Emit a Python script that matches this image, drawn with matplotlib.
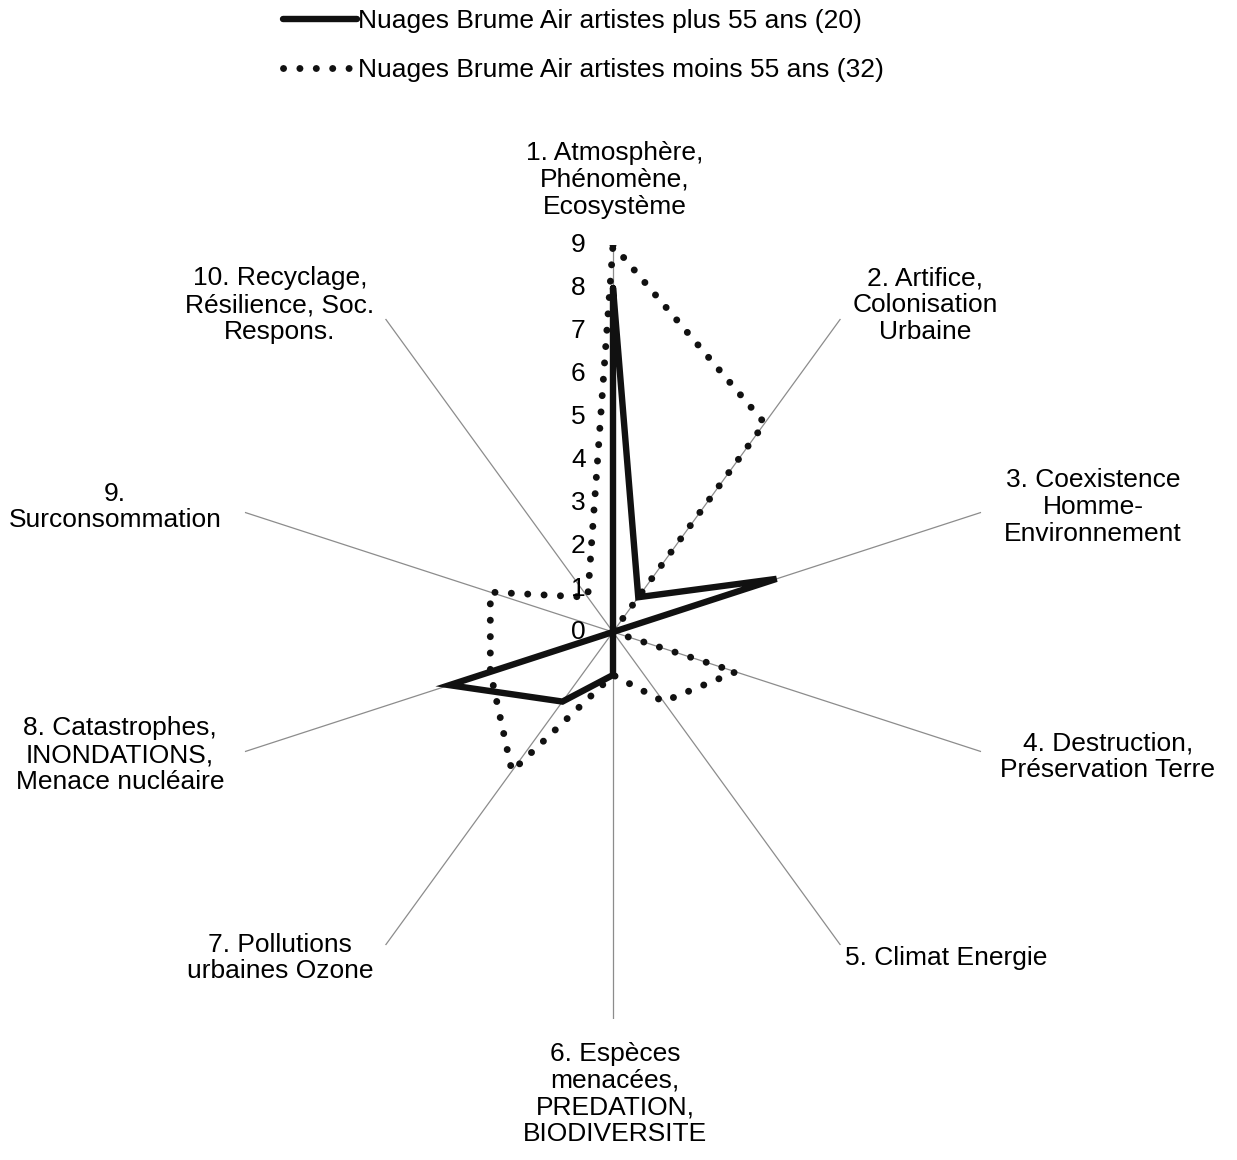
import numpy as np
import matplotlib
matplotlib.use("Agg")
import matplotlib.pyplot as plt

plt.rcParams['font.family'] = ['Liberation Sans', 'DejaVu Sans']

categories = ["1. Atmosphère,\nPhénomène,\nEcosystème",
              "2. Artifice,\nColonisation\nUrbaine",
              "3. Coexistence\nHomme-\nEnvironnement",
              "4. Destruction,\nPréservation Terre",
              "5. Climat Energie",
              "6. Espèces\nmenacées,\nPREDATION,\nBIODIVERSITE",
              "7. Pollutions\nurbaines Ozone",
              "8. Catastrophes,\nINONDATIONS,\nMenace nucléaire",
              "9.\nSurconsommation",
              "10. Recyclage,\nRésilience, Soc.\nRespons."]
plus55 = [8, 1, 4, 0, 0, 1, 2, 4, 0, 0]
moins55 = [9, 6, 0, 3, 2, 1, 4, 3, 3, 1]
series_names = ["Nuages Brume Air artistes plus 55 ans (20)",
                "Nuages Brume Air artistes moins 55 ans (32)"]
rticks = list(range(0, 10))

W, H = 1237, 1160
fig = plt.figure(figsize=(W / 100, H / 100), dpi=100)
cx, cy, R = 613, 632, 387
ax = fig.add_axes([(cx - R) / W, (H - cy - R) / H, 2 * R / W, 2 * R / H], polar=True)
ax.set_theta_zero_location('N')
ax.set_theta_direction(-1)
ax.set_ylim(0, 9)

n = len(categories)
angles = np.arange(n) * 2 * np.pi / n
ang_c = np.append(angles, angles[0])

ax.plot(ang_c, plus55 + plus55[:1], color='#111111', lw=4.6, solid_joinstyle='miter',
        solid_capstyle='round', label=series_names[0], zorder=3)
ax.plot(ang_c, moins55 + moins55[:1], color='#111111', lw=5, linestyle=(0, (0.01, 2.35)),
        dash_capstyle='round', label=series_names[1], zorder=3)

ax.set_xticks(angles)
ax.set_xticklabels([])
ax.set_yticks([])
ax.xaxis.grid(True, color='#8c8c8c', lw=0.9)
ax.yaxis.grid(False)
ax.spines['polar'].set_visible(False)
ax.set_facecolor('none')

for r in rticks:
    ax.annotate(str(r), (0, r), xytext=(-25, 0), textcoords='offset points',
                ha='center', va='center', fontsize=19)

# category label positions (pixels)
label_pos = [(615, 180), (925, 305), (1093, 507), (1108, 757), (946, 958),
             (615, 1094), (280, 958), (120, 755), (115, 507), (280, 305)]
for lab, (x, y) in zip(categories, label_pos):
    fig.text(x / W, 1 - y / H, lab, ha='center', va='center', fontsize=19,
             linespacing=1.15)

fig.legend(loc='upper left', bbox_to_anchor=(283 / W, 1 - 9 / H), frameon=False,
           fontsize=19, handlelength=2.8, handletextpad=0.05, labelspacing=0.95,
           borderpad=0, borderaxespad=0)

fig.savefig("out.png", dpi=100)
